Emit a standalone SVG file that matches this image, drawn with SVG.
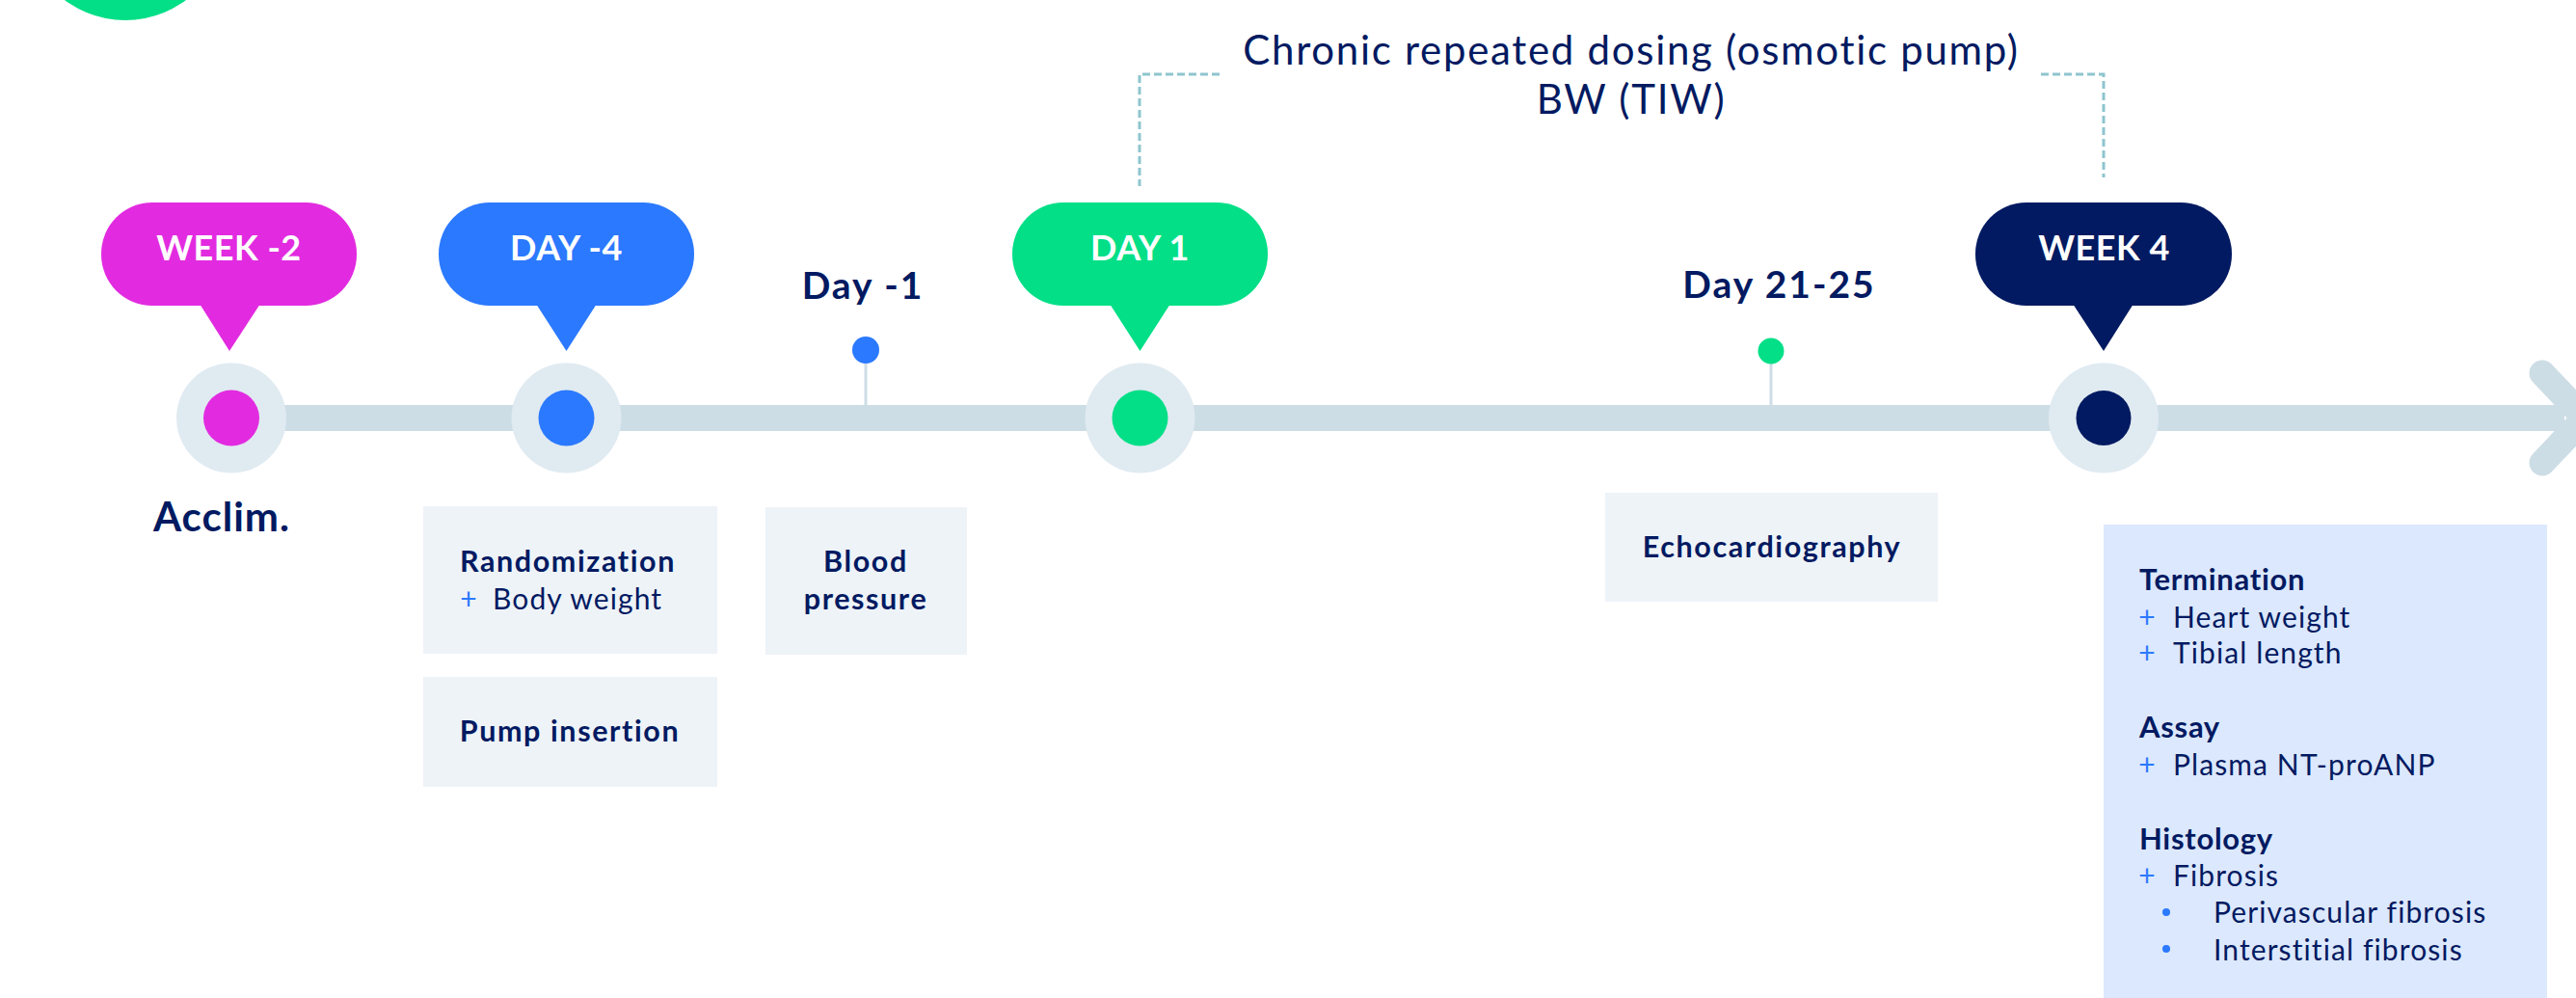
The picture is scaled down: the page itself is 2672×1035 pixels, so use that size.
<svg xmlns="http://www.w3.org/2000/svg" width="2672" height="1035" viewBox="0 0 2672 1035">
<style>
  text { font-family: Lato, "Noto Sans", "Liberation Sans", sans-serif; fill: #021a61; }
  .bub { font-weight: 700; font-size: 36px; fill: #ffffff; text-anchor: middle; letter-spacing: 0.5px; }
  .day { font-weight: 700; font-size: 39px; text-anchor: middle; letter-spacing: 2px; }
  .box { fill: #eef3f8; }
  .bt { font-weight: 700; font-size: 30.5px; text-anchor: middle; letter-spacing: 1.6px; }
  .reg { font-weight: 400; font-size: 30px; letter-spacing: 1.1px; }
  .head { font-weight: 700; font-size: 31px; letter-spacing: 0.7px; }
  .plus { fill: #2b79ff; font-weight: 400; font-size: 30px; }
  .ring { fill: #e0eaf1; }
  .stem { stroke: #cddde6; stroke-width: 3; }
  .dash { fill: none; stroke: #8ec5ce; stroke-width: 3; stroke-dasharray: 8 4; }
  .top { font-size: 42px; font-weight: 400; text-anchor: middle; letter-spacing: 1.7px; }
</style>

<circle cx="130" cy="-84" r="105" fill="#02df87"/>

<g id="connectors">
  <line x1="240" y1="433.5" x2="2660" y2="433.5" stroke="#cddde6" stroke-width="27"/>
  <polyline points="2637,387 2681,433.5 2637,480" fill="none" stroke="#cddde6" stroke-width="27" stroke-linecap="round" stroke-linejoin="round"/>
  <polyline class="dash" points="1265,77 1182,77 1182,193"/>
  <polyline class="dash" points="2117,77 2182,77 2182,184"/>
  <line class="stem" x1="898" y1="370" x2="898" y2="420"/>
  <line class="stem" x1="1837" y1="370" x2="1837" y2="420"/>
</g>

<g id="dosing-label">
  <text class="top" x="1692" y="67">Chronic repeated dosing (osmotic pump)</text>
  <text class="top" x="1692" y="118">BW (TIW)</text>
</g>

<g id="week-2">
  <rect x="105" y="210" width="265" height="107" rx="53" fill="#e22be0"/>
  <polygon points="207,315 270,315 238,364" fill="#e22be0"/>
  <text class="bub" x="237.5" y="270">WEEK -2</text>
  <circle class="ring" cx="240" cy="433.5" r="57"/>
  <circle cx="240" cy="433.5" r="29" fill="#e22be0"/>
  <text x="230" y="551" text-anchor="middle" style="font-size:42px;font-weight:700;letter-spacing:1px">Acclim.</text>
</g>

<g id="day-4">
  <rect x="455" y="210" width="265" height="107" rx="53" fill="#2b79ff"/>
  <polygon points="556,315 619,315 587.5,364" fill="#2b79ff"/>
  <text class="bub" x="587.5" y="270">DAY -4</text>
  <circle class="ring" cx="587.5" cy="433.5" r="57"/>
  <circle cx="587.5" cy="433.5" r="29" fill="#2b79ff"/>
</g>

<g id="randomization">
  <rect class="box" x="439" y="525" width="305" height="153"/>
  <text class="bt" x="589" y="593">Randomization</text>
  <text class="plus" x="486" y="632" text-anchor="middle">+</text>
  <text class="reg" x="511" y="632">Body weight</text>
</g>

<g id="pump-insertion">
  <rect class="box" x="439" y="702" width="305" height="114"/>
  <text class="bt" x="591" y="769">Pump insertion</text>
</g>

<g id="day-1-minus">
  <text class="day" x="895" y="310">Day -1</text>
  <circle cx="898" cy="363" r="14" fill="#2b79ff"/>
</g>

<g id="blood-pressure">
  <rect class="box" x="794" y="526" width="209" height="153"/>
  <text class="bt" x="898" y="593">Blood</text>
  <text class="bt" x="898" y="632">pressure</text>
</g>

<g id="day1">
  <rect x="1050" y="210" width="265" height="107" rx="53" fill="#02df87"/>
  <polygon points="1151,315 1214,315 1182.5,364" fill="#02df87"/>
  <text class="bub" x="1182.5" y="270">DAY 1</text>
  <circle class="ring" cx="1182.5" cy="433.5" r="57"/>
  <circle cx="1182.5" cy="433.5" r="29" fill="#02df87"/>
</g>

<g id="day21-25">
  <text class="day" x="1845.5" y="309">Day 21-25</text>
  <circle cx="1837" cy="364" r="13.5" fill="#02df87"/>
</g>

<g id="echocardiography">
  <rect class="box" x="1665" y="511" width="345" height="113"/>
  <text class="bt" x="1838" y="578">Echocardiography</text>
</g>

<g id="week4">
  <rect x="2049" y="210" width="266" height="107" rx="53" fill="#021a61"/>
  <polygon points="2150,315 2213,315 2182,364" fill="#021a61"/>
  <text class="bub" x="2182.5" y="270">WEEK 4</text>
  <circle class="ring" cx="2182" cy="433.5" r="57"/>
  <circle cx="2182" cy="433.5" r="28.5" fill="#021a61"/>
</g>

<g id="termination">
  <rect x="2182" y="544" width="460" height="500" fill="#dce8fd"/>
  <text class="head" x="2219" y="612">Termination</text>
  <text class="plus" x="2227" y="651" text-anchor="middle">+</text>
  <text class="reg" x="2254" y="651">Heart weight</text>
  <text class="plus" x="2227" y="688" text-anchor="middle">+</text>
  <text class="reg" x="2254" y="688">Tibial length</text>
  <text class="head" x="2219" y="765">Assay</text>
  <text class="plus" x="2227" y="804" text-anchor="middle">+</text>
  <text class="reg" x="2254" y="804">Plasma NT-proANP</text>
  <text class="head" x="2219" y="881">Histology</text>
  <text class="plus" x="2227" y="919" text-anchor="middle">+</text>
  <text class="reg" x="2254" y="919">Fibrosis</text>
  <circle cx="2247" cy="946" r="4" fill="#2b79ff"/>
  <text class="reg" x="2296" y="957">Perivascular fibrosis</text>
  <circle cx="2247" cy="984" r="4" fill="#2b79ff"/>
  <text class="reg" x="2296" y="996">Interstitial fibrosis</text>
</g>
</svg>
